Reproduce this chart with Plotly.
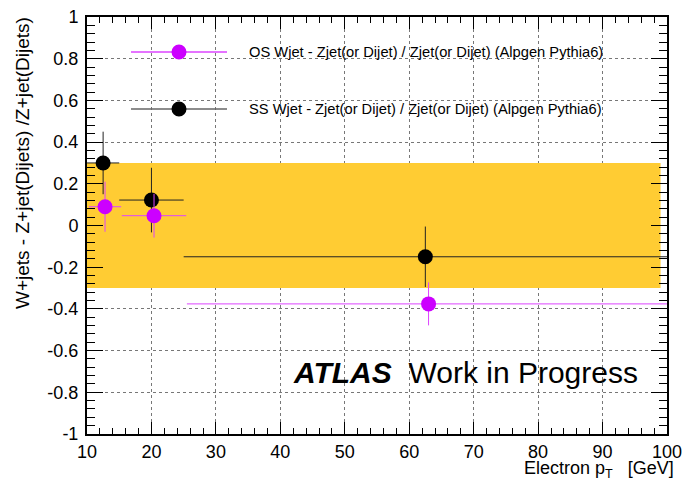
import plotly.graph_objects as go

# ---- data ----
os_x = [12.8, 20.4, 63.0]
os_y = [0.09, 0.047, -0.376]
os_xerr = [2.5, 5.0, 37.5]
os_yerr = [0.12, 0.105, 0.103]

ss_x = [12.5, 20.0, 62.5]
ss_y = [0.30, 0.122, -0.15]
ss_xerr = [2.5, 5.0, 37.5]
ss_yerr = [0.15, 0.155, 0.145]

band_x = [10, 99]
band_lo = -0.3
band_hi = 0.3

y_tick_vals = [1, 0.8, 0.6, 0.4, 0.2, 0, -0.2, -0.4, -0.6, -0.8, -1]
y_tick_text = ["1", "0.8", "0.6", "0.4", "0.2", "0", "-0.2", "-0.4", "-0.6", "-0.8", "-1"]
x_tick_vals = [10, 20, 30, 40, 50, 60, 70, 80, 90, 100]

legend_labels = [
    "OS Wjet - Zjet(or Dijet) / Zjet(or Dijet) (Alpgen Pythia6)",
    "SS Wjet - Zjet(or Dijet) / Zjet(or Dijet) (Alpgen Pythia6)",
]

MAGENTA = "#CC00FF"
BLACK = "#000000"
BAND = "#FFCC33"
FONT = "Liberation Sans, Arial, Helvetica, sans-serif"

fig = go.Figure()

# systematic band
fig.add_trace(go.Scatter(
    x=[band_x[0], band_x[1], band_x[1], band_x[0], band_x[0]],
    y=[band_lo, band_lo, band_hi, band_hi, band_lo],
    fill="toself", fillcolor=BAND, line=dict(width=0), mode="lines",
    hoverinfo="skip", showlegend=False,
))

# SS points
fig.add_trace(go.Scatter(
    x=ss_x, y=ss_y, mode="markers",
    marker=dict(color=BLACK, size=15, symbol="circle"),
    error_x=dict(type="data", array=ss_xerr, color="#222222", thickness=1, width=0),
    error_y=dict(type="data", array=ss_yerr, color="#222222", thickness=1, width=0),
    showlegend=False,
))

# OS points
fig.add_trace(go.Scatter(
    x=os_x, y=os_y, mode="markers",
    marker=dict(color=MAGENTA, size=15, symbol="circle"),
    error_x=dict(type="data", array=os_xerr, color="#DD44FF", thickness=1, width=0),
    error_y=dict(type="data", array=os_yerr, color="#DD44FF", thickness=1, width=0),
    showlegend=False,
))

# ---- manual legend ----
W, H = 683, 481
L, R, T, B = 87, 16, 17, 47
pw, ph = W - L - R, H - T - B

def px_x(p):
    return (p - L) / pw

def px_y(p):
    return 1 - (p - T) / ph

shapes = []
annotations = []
rows = [(52, MAGENTA, "#DD44FF"), (109, BLACK, "#666666")]
for (ry, mc, lc), lab in zip(rows, legend_labels):
    shapes.append(dict(type="line", xref="paper", yref="paper",
                       x0=px_x(131), x1=px_x(227), y0=px_y(ry), y1=px_y(ry),
                       line=dict(color=lc, width=1.5)))
    shapes.append(dict(type="circle", xref="paper", yref="paper",
                       xsizemode="pixel", ysizemode="pixel",
                       xanchor=px_x(179), yanchor=px_y(ry),
                       x0=-7.5, x1=7.5, y0=-7.5, y1=7.5,
                       fillcolor=mc, line=dict(color=mc, width=0)))
    annotations.append(dict(xref="paper", yref="paper", x=px_x(247), y=px_y(ry),
                            xanchor="left", yanchor="middle", showarrow=False,
                            text=lab, font=dict(family=FONT, size=14.7, color="black")))

# ATLAS label
annotations.append(dict(xref="paper", yref="paper", x=px_x(291), y=px_y(372),
                        xanchor="left", yanchor="middle", showarrow=False,
                        text="<b><i>ATLAS</i></b>  Work in Progress",
                        font=dict(family=FONT, size=30, color="black")))

# axis titles
annotations.append(dict(xref="paper", yref="paper", x=px_x(22), y=px_y(15),
                        xanchor="center", yanchor="top", showarrow=False, textangle=-90,
                        text="W+jets - Z+jet(Dijets) /Z+jet(Dijets)",
                        font=dict(family=FONT, size=19, color="black")))
annotations.append(dict(xref="paper", yref="paper", x=px_x(676), y=px_y(470),
                        xanchor="right", yanchor="middle", showarrow=False,
                        text="Electron p<sub>T</sub>\u00a0\u00a0 [GeV]",
                        font=dict(family=FONT, size=18, color="black")))

fig.update_layout(
    width=W, height=H,
    margin=dict(l=L, r=R, t=T, b=B, pad=0),
    paper_bgcolor="white", plot_bgcolor="white",
    font=dict(family=FONT, size=18, color="black"),
    shapes=shapes, annotations=annotations,
    showlegend=False,
)

fig.update_xaxes(
    range=[10, 100], tickvals=x_tick_vals, ticks="inside", ticklen=12, tickwidth=1,
    tickcolor="black", showline=True, linecolor="black", linewidth=2, mirror="allticks",
    showgrid=True, gridcolor="#777777", griddash="dot", gridwidth=1, zeroline=False,
    minor=dict(dtick=2, ticks="inside", ticklen=6, tickcolor="black", showgrid=False),
    tickfont=dict(family=FONT, size=18), automargin=False, ticklabelstandoff=0,
)
fig.update_yaxes(
    range=[-1, 1], tickvals=y_tick_vals, ticktext=y_tick_text, ticks="inside", ticklen=16,
    tickwidth=1, tickcolor="black", showline=True, linecolor="black", linewidth=2,
    mirror="allticks", showgrid=True, gridcolor="#777777", griddash="dot", gridwidth=1,
    zeroline=False,
    minor=dict(dtick=0.04, ticks="inside", ticklen=8, tickcolor="black", showgrid=False),
    tickfont=dict(family=FONT, size=18), ticklabelstandoff=3, automargin=False,
)

fig.write_html("out.html")
